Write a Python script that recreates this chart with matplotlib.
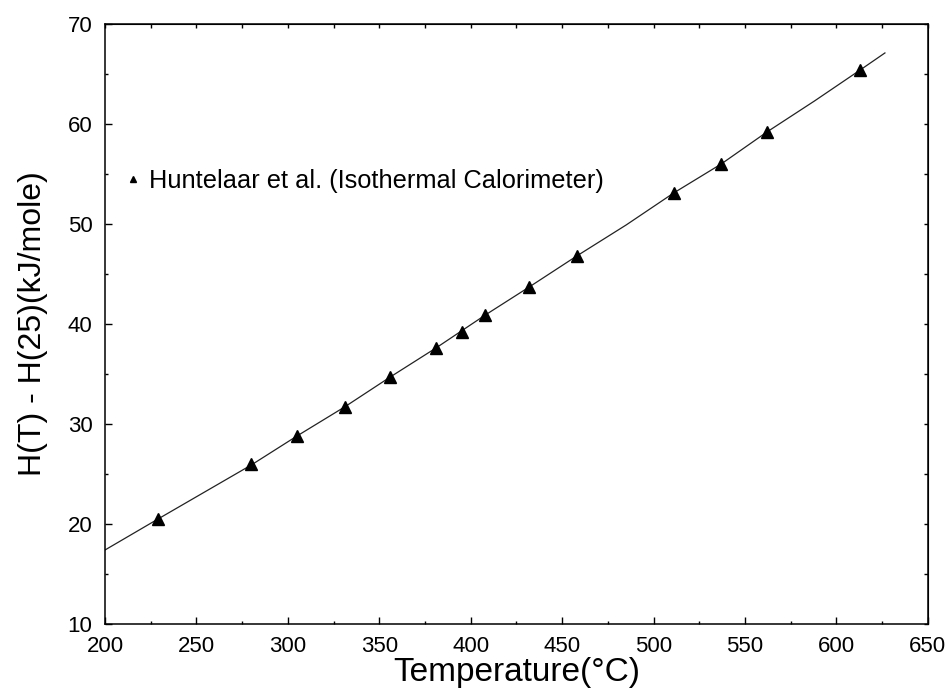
import numpy as np
import matplotlib
matplotlib.use('Agg')
import matplotlib.pyplot as plt

# measured data (Huntelaar et al.)
temp_meas = [229, 280, 305, 331, 356, 381, 395, 408, 432, 458, 511, 537, 562, 613]
h_meas = [20.5, 26.0, 28.8, 31.7, 34.7, 37.6, 39.2, 40.9, 43.7, 46.8, 53.1, 56.0, 59.2, 65.4]

# fitted curve
temp_fit = [200, 229, 280, 305, 331, 356, 381, 408, 432, 458, 485, 511, 537, 562, 588, 613, 626.5]
h_fit = [17.4, 20.5, 25.9, 28.8, 31.7, 34.7, 37.6, 40.9, 43.7, 46.8, 49.9, 53.1, 56.0, 59.2, 62.3, 65.4, 67.1]

xticks = [200, 250, 300, 350, 400, 450, 500, 550, 600, 650]
yticks = [10, 20, 30, 40, 50, 60, 70]

plt.rcParams['font.family'] = ['Liberation Sans', 'DejaVu Sans']

fig = plt.figure(figsize=(9.48, 6.94), dpi=100)
ax = fig.add_axes([0.1108, 0.1009, 0.868, 0.8646])

ax.plot(temp_fit, h_fit, '-', color='#222222', lw=0.9)
ax.plot(temp_meas, h_meas, '^', color='black', markersize=8, ls='none',
        label='Huntelaar et al. (Isothermal Calorimeter)')

ax.set_xlim(200, 650)
ax.set_ylim(10, 70)
ax.set_xticks(xticks)
ax.set_yticks(yticks)
ax.set_xticks(np.arange(225, 650, 50), minor=True)
ax.set_yticks(np.arange(15, 70, 10), minor=True)
ax.tick_params(which='major', direction='in', length=5, width=1, labelsize=16)
ax.tick_params(axis='x', which='major', pad=9)
ax.tick_params(axis='y', which='major', pad=9)
ax.tick_params(which='minor', direction='in', length=2.5, width=1)

# small ticks on top and right
top = ax.secondary_xaxis('top')
top.set_xticks(np.arange(200, 651, 25))
top.tick_params(direction='in', length=3, width=1, labeltop=False)
right = ax.secondary_yaxis('right')
right.set_yticks(np.arange(10, 71, 5))
right.tick_params(direction='in', length=3, width=1, labelright=False)

for sp in ax.spines.values():
    sp.set_linewidth(1.1)

ax.set_xlabel('Temperature(°C)', fontsize=24, labelpad=0)
ax.set_ylabel('H(T) - H(25)(kJ/mole)', fontsize=23, labelpad=14)

ax.legend(loc='upper left', bbox_to_anchor=(-0.005, 0.797), frameon=False,
          fontsize=18.3, markerscale=0.6, handlelength=0.7, handletextpad=0.3)

fig.savefig('out.png', dpi=100)
